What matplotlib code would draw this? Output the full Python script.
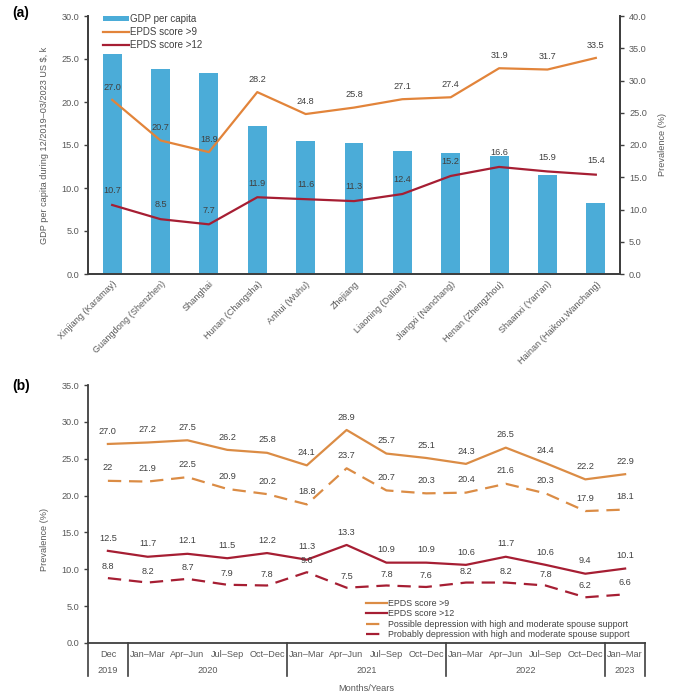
import matplotlib
matplotlib.use("Agg")
import matplotlib.pyplot as plt
from matplotlib.transforms import blended_transform_factory
from matplotlib.patches import Patch
from matplotlib.lines import Line2D

plt.rcParams['font.family'] = ['Liberation Sans', 'DejaVu Sans']

# ---------------- Data: panel (a) ----------------
regions = ["Xinjiang (Karamay)", "Guangdong (Shenzhen)", "Shanghai", "Hunan (Changsha)",
           "Anhui (Wuhu)", "Zhejiang", "Liaoning (Dalian)", "Jiangxi (Nanchang)",
           "Henan (Zhengzhou)", "Shaanxi (Yan'an)", "Hainan (Haikou,Wanchang)"]
gdp_per_capita = [25.6, 23.8, 23.4, 17.2, 15.5, 15.2, 14.3, 14.1, 13.7, 11.5, 8.3]
epds9_region = [27.0, 20.7, 18.9, 28.2, 24.8, 25.8, 27.1, 27.4, 31.9, 31.7, 33.5]
epds12_region = [10.7, 8.5, 7.7, 11.9, 11.6, 11.3, 12.4, 15.2, 16.6, 15.9, 15.4]

# ---------------- Data: panel (b) ----------------
periods = ["Dec", "Jan–Mar", "Apr–Jun", "Jul–Sep", "Oct–Dec",
           "Jan–Mar", "Apr–Jun", "Jul–Sep", "Oct–Dec",
           "Jan–Mar", "Apr–Jun", "Jul–Sep", "Oct–Dec", "Jan–Mar"]
years = ["2019", "2020", "2021", "2022", "2023"]
year_sizes = [1, 4, 4, 4, 1]
epds9_time = [27.0, 27.2, 27.5, 26.2, 25.8, 24.1, 28.9, 25.7, 25.1, 24.3, 26.5, 24.4, 22.2, 22.9]
possible_dep = [22, 21.9, 22.5, 20.9, 20.2, 18.8, 23.7, 20.7, 20.3, 20.4, 21.6, 20.3, 17.9, 18.1]
possible_dep_labels = ["22", "21.9", "22.5", "20.9", "20.2", "18.8", "23.7", "20.7", "20.3",
                       "20.4", "21.6", "20.3", "17.9", "18.1"]
epds12_time = [12.5, 11.7, 12.1, 11.5, 12.2, 11.3, 13.3, 10.9, 10.9, 10.6, 11.7, 10.6, 9.4, 10.1]
probable_dep = [8.8, 8.2, 8.7, 7.9, 7.8, 9.6, 7.5, 7.8, 7.6, 8.2, 8.2, 7.8, 6.2, 6.6]

# ---------------- Styles ----------------
BLUE = "#4BACD8"
ORANGE = "#E2843A"
ORANGE_B = "#DB8C45"
RED = "#A61E33"
TXT = "#595959"
LBL = "#404040"
SPINE = "#3F3F3F"
FS = 6.6

fig = plt.figure(figsize=(6.74, 7.0), dpi=100)

# ================= Panel (a) =================
ax = fig.add_axes([88/674, 1-274/700, (620-88)/674, (274-16)/700])
ax2 = ax.twinx()
x = list(range(len(regions)))
ax.bar(x, gdp_per_capita, width=0.39, color=BLUE, zorder=1)
ax.set_xlim(-0.5, len(regions)-0.5)
ax.set_ylim(0, 30)
ax.set_yticks([0, 5, 10, 15, 20, 25, 30])
ax.set_yticklabels([f"{v:.1f}" for v in [0, 5, 10, 15, 20, 25, 30]])
ax2.set_ylim(0, 40)
ax2.set_yticks([0, 5, 10, 15, 20, 25, 30, 35, 40])
ax2.set_yticklabels([f"{v:.1f}" for v in [0, 5, 10, 15, 20, 25, 30, 35, 40]])

ax2.plot(x, epds9_region, color=ORANGE, lw=1.6, zorder=3)
ax2.plot(x, epds12_region, color=RED, lw=1.6, zorder=3)
for xi, v in zip(x, epds9_region):
    ax2.annotate(f"{v:.1f}", (xi, v), xytext=(0, 6), textcoords="offset points",
                 ha="center", va="bottom", fontsize=FS, color=LBL)
for xi, v in zip(x, epds12_region):
    ax2.annotate(f"{v:.1f}", (xi, v), xytext=(0, 7), textcoords="offset points",
                 ha="center", va="bottom", fontsize=FS, color=LBL)

ax.set_xticks(x)
ax.set_xticklabels(regions, rotation=45, ha="right", rotation_mode="anchor",
                   fontsize=FS, color=TXT)
ax.tick_params(axis="x", length=0, pad=4)
for a in (ax, ax2):
    a.tick_params(axis="y", labelsize=FS, labelcolor=TXT, color=SPINE, length=3, width=1)
    a.spines["top"].set_visible(False)
    for s in ("left", "right", "bottom"):
        a.spines[s].set_color(SPINE)
        a.spines[s].set_linewidth(1.3)
ax.set_ylabel("GDP per capita during 12/2019–03/2023 US $, k", fontsize=FS, color=TXT)
ax.yaxis.set_label_coords(-0.074, 0.5)
ax2.set_ylabel("Prevalence (%)", fontsize=FS, color=TXT)
ax2.yaxis.set_label_coords(1.072, 0.5)

handles_a = [Patch(facecolor=BLUE, edgecolor="none"),
             Line2D([], [], color=ORANGE, lw=1.6),
             Line2D([], [], color=RED, lw=1.6)]
leg = ax2.legend(handles_a, ["GDP per capita", "EPDS score >9", "EPDS score >12"],
                 loc="upper left", bbox_to_anchor=(0.018, 1.03), frameon=False,
                 fontsize=FS + 0.4, handlelength=2.6, handleheight=0.45, handletextpad=0.15,
                 labelspacing=0.3, borderpad=0.1)
for t in leg.get_texts():
    t.set_color(LBL)

fig.text(12/674, 1-13/700, "(a)", fontsize=10, fontweight="bold", va="center", ha="left")

# ================= Panel (b) =================
bx = fig.add_axes([88/674, 1-643/700, (645-88)/674, (643-385)/700])
xt = list(range(len(periods)))
bx.plot(xt, epds9_time, color=ORANGE_B, lw=1.6, label="EPDS score >9")
bx.plot(xt, epds12_time, color=RED, lw=1.6, label="EPDS score >12")
bx.plot(xt, possible_dep, color=ORANGE_B, lw=1.6, ls=(0, (6, 3.5)),
        label="Possible depression with high and moderate spouse support")
bx.plot(xt, probable_dep, color=RED, lw=1.6, ls=(0, (6, 3.5)),
        label="Probably depression with high and moderate spouse support")

for xi, v in zip(xt, epds9_time):
    bx.annotate(f"{v:.1f}", (xi, v), xytext=(0, 6), textcoords="offset points",
                ha="center", va="bottom", fontsize=FS, color=LBL)
for xi, v, s in zip(xt, possible_dep, possible_dep_labels):
    bx.annotate(s, (xi, v), xytext=(0, 6), textcoords="offset points",
                ha="center", va="bottom", fontsize=FS, color=LBL)
for xi, v in zip(xt, epds12_time):
    bx.annotate(f"{v:.1f}", (xi, v), xytext=(0, 6), textcoords="offset points",
                ha="center", va="bottom", fontsize=FS, color=LBL)
for xi, v in zip(xt, probable_dep):
    bx.annotate(f"{v:.1f}", (xi, v), xytext=(0, 5), textcoords="offset points",
                ha="center", va="bottom", fontsize=FS, color=LBL)

bx.set_xlim(-0.5, len(periods)-0.5)
bx.set_ylim(0, 35)
bx.set_yticks([0, 5, 10, 15, 20, 25, 30, 35])
bx.set_yticklabels([f"{v:.1f}" for v in [0, 5, 10, 15, 20, 25, 30, 35]])
bx.set_xticks(xt)
bx.set_xticklabels(periods, fontsize=FS, color=TXT)
bx.tick_params(axis="x", length=0, pad=5)
bx.tick_params(axis="y", labelsize=FS, labelcolor=TXT, color=SPINE, length=3, width=1)
for s in ("top", "right"):
    bx.spines[s].set_visible(False)
for s in ("left", "bottom"):
    bx.spines[s].set_color(SPINE)
    bx.spines[s].set_linewidth(1.3)

trans = blended_transform_factory(bx.transData, bx.transAxes)
edges = [-0.5]
for n in year_sizes:
    edges.append(edges[-1] + n)
for e in edges:
    bx.plot([e, e], [0, -0.128], transform=trans, color=SPINE, lw=1.2, clip_on=False)
for i, yr in enumerate(years):
    c = (edges[i] + edges[i+1]) / 2
    bx.text(c, -0.105, yr, transform=trans, ha="center", va="center",
            fontsize=FS, color=TXT)
bx.text(0.5, -0.175, "Months/Years", transform=bx.transAxes, ha="center", va="center",
        fontsize=FS, color=TXT)
bx.set_ylabel("Prevalence (%)", fontsize=FS, color=TXT)
bx.yaxis.set_label_coords(-0.07, 0.40)

legb = bx.legend(loc="lower left", bbox_to_anchor=(0.49, -0.005), frameon=False,
                 fontsize=6.4, handlelength=2.3, handletextpad=0.2, labelspacing=0.15,
                 borderpad=0.1)
for t in legb.get_texts():
    t.set_color(LBL)

fig.text(12/674, 1-386/700, "(b)", fontsize=10, fontweight="bold", va="center", ha="left")

fig.savefig("out.png", dpi=100)
